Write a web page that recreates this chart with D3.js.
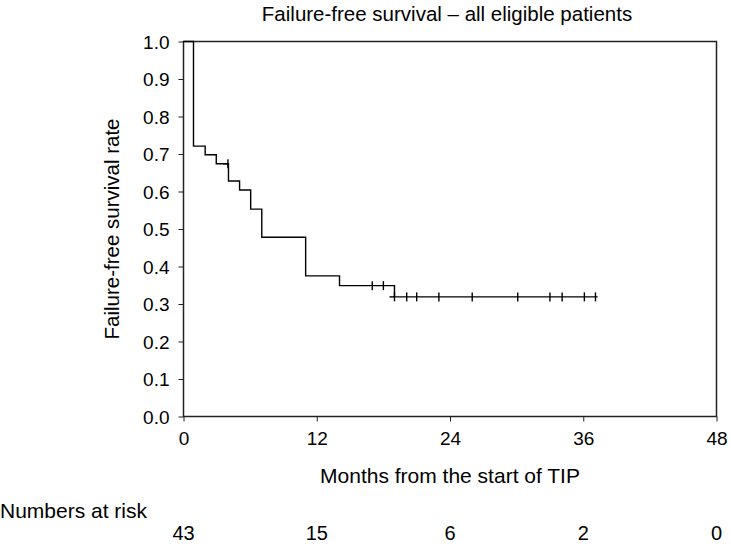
<!DOCTYPE html>
<html><head><meta charset="utf-8">
<script src="https://cdn.jsdelivr.net/npm/d3@7"></script>
<style>
html,body{margin:0;padding:0;background:#fff;}
text{font-family:"Liberation Sans",Arial,Helvetica,sans-serif;fill:#000;}
</style></head>
<body>
<svg id="chart" width="731" height="546"></svg>
<script>
// Kaplan-Meier step data (time in months, survival after the step)
const stepTimes = [0, 0.9, 1.95, 2.95, 4.05, 5.05, 6.05, 7.05, 11.0, 14.05, 19.0];
const stepSurvival = [1.0, 0.721, 0.698, 0.674, 0.628, 0.604, 0.553, 0.478, 0.375, 0.349, 0.319];
const endTime = 37.3;
const censorTimes = [4.0, 17.0, 18.0, 19.0, 20.1, 21.0, 23.0, 26.0, 30.1, 33.0, 34.1, 36.1, 37.1];
const xTicks = [0, 12, 24, 36, 48];
const yTicks = [0, 0.1, 0.2, 0.3, 0.4, 0.5, 0.6, 0.7, 0.8, 0.9, 1.0];
const riskTimes = [0, 12, 24, 36, 48];
const riskCounts = [43, 15, 6, 2, 0];

const svg = d3.select("#chart");
const m = {left: 183.5, right: 716.5, top: 41.5, bottom: 416.5};
const x = d3.scaleLinear().domain([0, 48]).range([m.left, m.right]);
const y = d3.scaleLinear().domain([0, 1]).range([m.bottom, m.top]);

// frame
svg.append("rect").attr("x", m.left).attr("y", m.top)
  .attr("width", m.right - m.left).attr("height", m.bottom - m.top)
  .attr("fill", "none").attr("stroke", "#222").attr("stroke-width", 1.5);

// axes
const yAxis = d3.axisLeft(y).tickValues(yTicks).tickFormat(d3.format(".1f")).tickSize(5).tickPadding(9);
const gy = svg.append("g").attr("transform", `translate(${m.left},0)`).call(yAxis);
gy.select(".domain").remove();
gy.selectAll("text").style("font-size", "19px").attr("dy", "0.35em");
gy.selectAll("line").attr("stroke", "#222");

const xAxis = d3.axisBottom(x).tickValues(xTicks).tickSize(5).tickPadding(10);
const gx = svg.append("g").attr("transform", `translate(0,${m.bottom})`).call(xAxis);
gx.select(".domain").remove();
gx.selectAll("text").style("font-size", "19px");
gx.selectAll("line").attr("stroke", "#222");

// KM curve
const pts = stepTimes.map((t, i) => [t, stepSurvival[i]]);
pts.push([endTime, stepSurvival[stepSurvival.length - 1]]);
const line = d3.line().x(d => x(d[0])).y(d => y(d[1])).curve(d3.curveStepAfter);
svg.append("path").datum(pts).attr("d", line)
  .attr("fill", "none").attr("stroke", "#000").attr("stroke-width", 1.4);

// survival at time t (right-continuous)
function survAt(t) {
  let s = stepSurvival[0];
  for (let i = 0; i < stepTimes.length; i++) if (stepTimes[i] <= t + 1e-9) s = stepSurvival[i];
  return s;
}
svg.append("g").selectAll("line").data(censorTimes).join("line")
  .attr("x1", d => x(d)).attr("x2", d => x(d))
  .attr("y1", d => y(survAt(d)) - 4.5).attr("y2", d => y(survAt(d)) + 4.5)
  .attr("stroke", "#000").attr("stroke-width", 1.4);
// horizontal arms for "+" marks where a censor coincides with a drop
svg.append("g").selectAll("line").data(censorTimes.filter(t => stepTimes.some(s => Math.abs(s - t) < 0.1)))
  .join("line")
  .attr("x1", d => x(d) - 5).attr("x2", d => x(d))
  .attr("y1", d => y(survAt(d))).attr("y2", d => y(survAt(d)))
  .attr("stroke", "#000").attr("stroke-width", 1.4);

// title
svg.append("text").attr("x", 447).attr("y", 21).attr("text-anchor", "middle")
  .style("font-size", "20.5px").text("Failure-free survival – all eligible patients");

// axis titles
svg.append("text").attr("x", (m.left + m.right) / 2).attr("y", 483).attr("text-anchor", "middle")
  .style("font-size", "21px").text("Months from the start of TIP");
svg.append("text").attr("transform", `translate(119,${(m.top + m.bottom) / 2}) rotate(-90)`)
  .attr("text-anchor", "middle").style("font-size", "20.5px").text("Failure-free survival rate");

// numbers at risk
svg.append("text").attr("x", 0).attr("y", 518).style("font-size", "21px").text("Numbers at risk");
svg.append("g").selectAll("text").data(riskCounts).join("text")
  .attr("x", (d, i) => x(riskTimes[i])).attr("y", 540).attr("text-anchor", "middle")
  .style("font-size", "20px").text(d => d);
</script>
</body></html>
